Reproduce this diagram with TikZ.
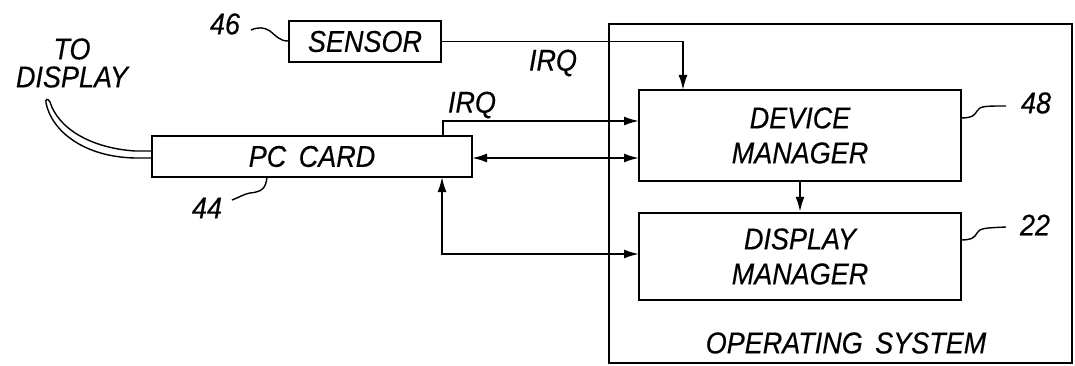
\documentclass[tikz,border=0pt]{standalone}
\usepackage{fontspec}
\setmainfont{Liberation Sans}[FakeStretch=0.9,FakeBold=0.4]
\usetikzlibrary{arrows.meta}
\begin{document}
\begin{tikzpicture}[x=1pt,y=-1pt,
  lbl/.style={font=\itshape\fontsize{30}{28}\selectfont, inner sep=0pt},
  blk/.style={draw, line width=2.5pt, inner sep=0pt, align=center, font=\itshape\fontsize{30}{35}\selectfont},
  con/.style={line width=1.8pt},
  arr/.style={con, -{Latex[length=15pt,width=9pt]}},
  barr/.style={con, {Latex[length=15pt,width=9pt]}-{Latex[length=15pt,width=9pt]}},
  lead/.style={line width=1.4pt}]
\useasboundingbox (0,0) rectangle (1075,366);
% operating system
\node[draw, line width=1.8pt, minimum width=463pt, minimum height=339pt, inner sep=0pt] (os) at (840.5,193.5) {};
\node[lbl] (ostxt) at (846,343) {OPERATING \,SYSTEM};
% blocks
\node[blk, minimum width=152pt, minimum height=41pt] (sensor) at (365,41.5) {SENSOR};
\node[blk, minimum width=320pt, minimum height=41pt] (pc) at (312,156.5) {PC \,CARD};
\node[blk, minimum width=322pt, minimum height=91pt] (dm) at (800,135.5) {DEVICE\\MANAGER};
\node[blk, minimum width=322pt, minimum height=87pt] (dispm) at (800,256.5) {DISPLAY\\MANAGER};
% coordinates
\coordinate (s1) at (683,90);
\coordinate (irqa) at (443,136);
\coordinate (irqb) at (639,121);
\coordinate (pce) at (472,158);
\coordinate (dmw) at (639,158);
\coordinate (pcb) at (442,177);
\coordinate (dispw) at (639,254);
% connectors
\draw[arr] (sensor.east) -| (s1);
\draw[arr] (irqa) |- (irqb);
\draw[barr] (pce) -- (dmw);
\draw[barr] (pcb) |- (dispw);
\draw[arr] (dm.south) -- (dispm.north);
% labels
\node[lbl] (irq1) at (553,63) {IRQ};
\node[lbl] (irq2) at (472,105) {IRQ};
\node[lbl, align=center] (todisp) at (72,63) {TO\\DISPLAY};
\node[lbl] (n46) at (225,24) {46};
\node[lbl] (n44) at (207,208) {44};
\node[lbl] (n48) at (1036,103) {48};
\node[lbl] (n22) at (1035,225) {22};
% leader squiggles
\draw[lead] (251,30) .. controls (258,27) and (264,27) .. (270,31) .. controls (276,36) and (280,41) .. (288,41);
\draw[lead] (232,200) .. controls (240,197) and (244,194) .. (250,193) .. controls (262,192) and (266,188) .. (267,177);
\draw[lead] (961,118) .. controls (972,118) and (975,115) .. (977,111) .. controls (980,106) and (985,106) .. (1006,106);
\draw[lead] (961,240) .. controls (972,240) and (975,237) .. (977,233) .. controls (980,228) and (985,228) .. (1006,227);
% cable to display
\draw[line width=1.4pt] (152,151) -- (135,151) .. controls (90,148) and (58,128) .. (50,102)
  .. controls (48,98) and (45,99) .. (46,103)
  .. controls (52,132) and (85,157) .. (135,158) -- (152,158);
\end{tikzpicture}
\end{document}
